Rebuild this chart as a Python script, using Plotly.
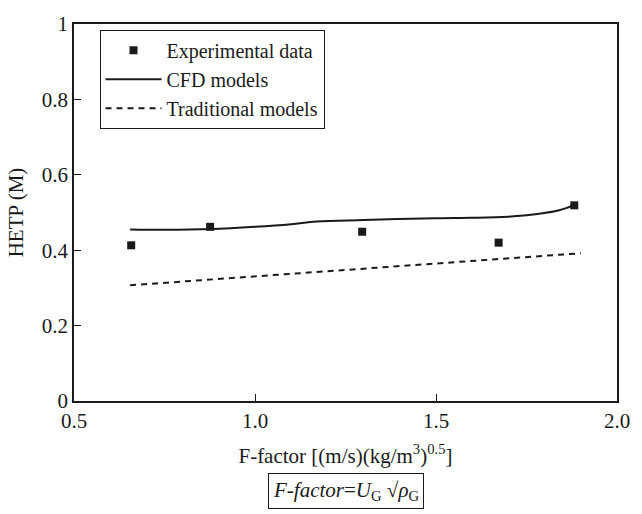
import plotly.graph_objects as go

# experimental points
exp_x = [0.658, 0.876, 1.296, 1.673, 1.882]
exp_y = [0.413, 0.462, 0.449, 0.420, 0.519]

# CFD model curve
cfd_x = [0.655, 0.75, 0.88, 1.0, 1.1, 1.17, 1.3, 1.5, 1.6, 1.7, 1.78, 1.84, 1.88]
cfd_y = [0.455, 0.454, 0.456, 0.462, 0.469, 0.476, 0.480, 0.485, 0.486, 0.489, 0.496, 0.506, 0.519]

# traditional model line
trad_x = [0.655, 1.9]
trad_y = [0.307, 0.392]

serif = "Liberation Serif"
ink = "#1a1a1a"

fig = go.Figure()
fig.add_trace(go.Scatter(
    x=exp_x, y=exp_y, mode="markers", name="Experimental data",
    marker=dict(symbol="square", size=8, color=ink),
))
fig.add_trace(go.Scatter(
    x=cfd_x, y=cfd_y, mode="lines", name="CFD models",
    line=dict(color=ink, width=2, shape="spline"),
))
fig.add_trace(go.Scatter(
    x=trad_x, y=trad_y, mode="lines", name="Traditional models",
    line=dict(color=ink, width=2, dash="6px,5px"),
))

fig.update_layout(
    width=642, height=514,
    margin=dict(l=74, r=16, t=14, b=113),
    paper_bgcolor="white", plot_bgcolor="white",
    font=dict(family=serif, size=21, color=ink),
    showlegend=True,
    legend=dict(
        x=0.047, y=0.985, xanchor="left", yanchor="top",
        bordercolor=ink, borderwidth=1, bgcolor="white",
        font=dict(family=serif, size=20), tracegroupgap=0,
        itemwidth=56,
    ),
    xaxis=dict(
        range=[0.5, 2.0], tickvals=[0.5, 1.0, 1.5, 2.0],
        ticktext=["0.5", "1.0", "1.5", "2.0"],
        showgrid=False, zeroline=False, showline=True, mirror=True,
        linecolor=ink, linewidth=1.5, ticks="inside", ticklen=7,
        tickcolor=ink, tickfont=dict(size=21), ticklabeloverflow="allow",
        title=dict(text="F-factor [(m/s)(kg/m<sup>3</sup>)<sup>0.5</sup>]",
                   font=dict(size=21), standoff=16),
    ),
    yaxis=dict(
        range=[0, 1], tickvals=[0, 0.2, 0.4, 0.6, 0.8, 1],
        ticktext=["0", "0.2", "0.4", "0.6", "0.8", "1"],
        showgrid=False, zeroline=False, showline=True, mirror=True,
        linecolor=ink, linewidth=1.5, ticks="inside", ticklen=7,
        tickcolor=ink, tickfont=dict(size=21), ticklabeloverflow="allow",
        title=dict(text="HETP (M)", font=dict(size=21), standoff=12),
    ),
)

fig.add_annotation(
    xref="paper", yref="paper", x=0.5, y=-0.19, xanchor="center", yanchor="top",
    text="<i>F-factor</i>=<i>U</i><sub>G</sub> √<i>ρ</i><sub>G</sub>",
    showarrow=False, font=dict(family=serif, size=21),
    bordercolor=ink, borderwidth=1, borderpad=4, bgcolor="white",
)

# drop the page's default body margin so the figure sits at the window corner
fig.write_html("out.html", config={"displayModeBar": False},
               post_script="document.body.style.margin='0';")
